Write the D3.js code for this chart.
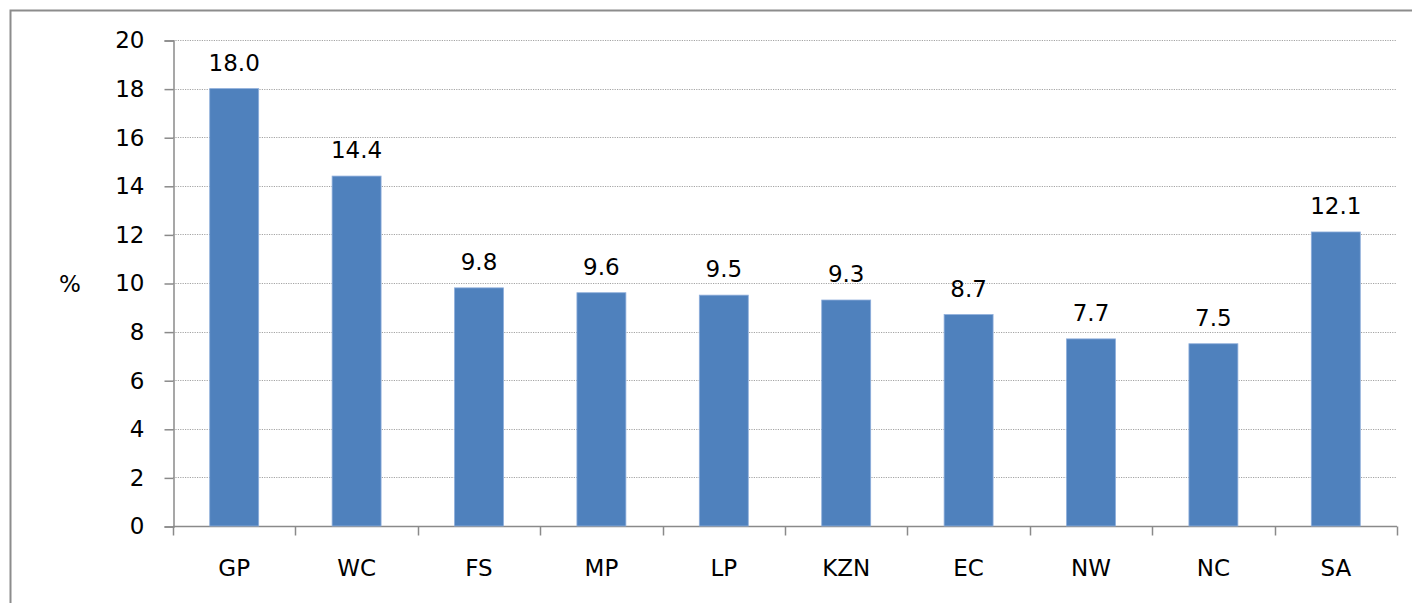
<!DOCTYPE html>
<html>
<head>
<meta charset="utf-8">
<script src="https://cdn.jsdelivr.net/npm/d3@7"></script>
<style>
  body { margin: 0; background: #fff; }
  text { font-family: "DejaVu Sans", sans-serif; fill: #000; }
</style>
</head>
<body>
<div id="chart-area"></div>
<script>
const categories = ["GP", "WC", "FS", "MP", "LP", "KZN", "EC", "NW", "NC", "SA"];
const values = [18.0, 14.4, 9.8, 9.6, 9.5, 9.3, 8.7, 7.7, 7.5, 12.1];
const yTicks = [0, 2, 4, 6, 8, 10, 12, 14, 16, 18, 20];

const svg = d3.select("#chart-area")
    .append("svg")
    .attr("width", 1412)
    .attr("height", 603);

// outer frame (only left and top edges fall inside the picture)
svg.append("rect")
    .attr("x", 10.5)
    .attr("y", 10.5)
    .attr("width", 1420)
    .attr("height", 620)
    .attr("fill", "none")
    .attr("stroke", "#8c8c8c")
    .attr("stroke-width", 2);

const plotLeft = 173, plotRight = 1397, plotTop = 40, plotBottom = 526;

const x = d3.scaleBand()
    .domain(categories)
    .range([plotLeft, plotRight])
    .paddingInner(0.6)
    .paddingOuter(0.3);

const y = d3.scaleLinear()
    .domain([0, 20])
    .range([plotBottom, plotTop]);

// dotted gridlines
svg.selectAll("line.grid")
    .data(yTicks.filter(d => d > 0))
    .enter()
    .append("line")
    .attr("class", "grid")
    .attr("x1", plotLeft)
    .attr("x2", plotRight)
    .attr("y1", d => Math.round(y(d)) + 0.5)
    .attr("y2", d => Math.round(y(d)) + 0.5)
    .attr("stroke", "#a4a4a4")
    .attr("stroke-width", 1)
    .attr("stroke-dasharray", "1.2,1.2");

// y axis
const yAxis = svg.append("g")
    .attr("transform", `translate(${plotLeft + 0.5},0.5)`)
    .call(d3.axisLeft(y).tickValues(yTicks).tickSize(9).tickPadding(20).tickFormat(d3.format("d")));
yAxis.select(".domain").attr("stroke", "#8a8a8a").attr("stroke-width", 1.5);
yAxis.selectAll(".tick line").attr("stroke", "#8a8a8a").attr("stroke-width", 1.5);
yAxis.selectAll("text")
    .attr("font-size", "23px")
    .attr("font-family", "DejaVu Sans")
    .attr("fill", "#000");

// x axis with ticks at category boundaries
const xAxisG = svg.append("g")
    .attr("transform", `translate(0,${plotBottom + 0.5})`);
xAxisG.append("line")
    .attr("x1", plotLeft)
    .attr("x2", plotRight)
    .attr("stroke", "#8a8a8a")
    .attr("stroke-width", 1.5);
const step = x.step();
const bounds = categories.map(c => x(c) - (step - x.bandwidth()) / 2).concat([plotRight]);
xAxisG.selectAll("line.xt")
    .data(bounds)
    .enter()
    .append("line")
    .attr("class", "xt")
    .attr("x1", d => Math.round(d) + 0.5)
    .attr("x2", d => Math.round(d) + 0.5)
    .attr("y1", 0)
    .attr("y2", 9)
    .attr("stroke", "#8a8a8a")
    .attr("stroke-width", 1.5);
xAxisG.selectAll("text")
    .data(categories)
    .enter()
    .append("text")
    .attr("x", d => x(d) + x.bandwidth() / 2)
    .attr("y", 49)
    .attr("text-anchor", "middle")
    .attr("font-size", "23px")
    .text(d => d);

// bars
svg.selectAll("rect.bar")
    .data(values)
    .enter()
    .append("rect")
    .attr("class", "bar")
    .attr("x", (d, i) => x(categories[i]))
    .attr("y", d => y(d))
    .attr("width", x.bandwidth())
    .attr("height", d => plotBottom - y(d))
    .attr("fill", "#4f81bd")
    .attr("stroke", "#8eaedb")
    .attr("stroke-width", 0.8);

// value labels
svg.selectAll("text.val")
    .data(values)
    .enter()
    .append("text")
    .attr("class", "val")
    .attr("x", (d, i) => x(categories[i]) + x.bandwidth() / 2)
    .attr("y", d => y(d) - 18)
    .attr("text-anchor", "middle")
    .attr("font-size", "23px")
    .text(d => d.toFixed(1));

// axis title
svg.append("text")
    .attr("x", 70)
    .attr("y", 292)
    .attr("text-anchor", "middle")
    .attr("font-size", "23px")
    .text("%");
</script>
</body>
</html>
